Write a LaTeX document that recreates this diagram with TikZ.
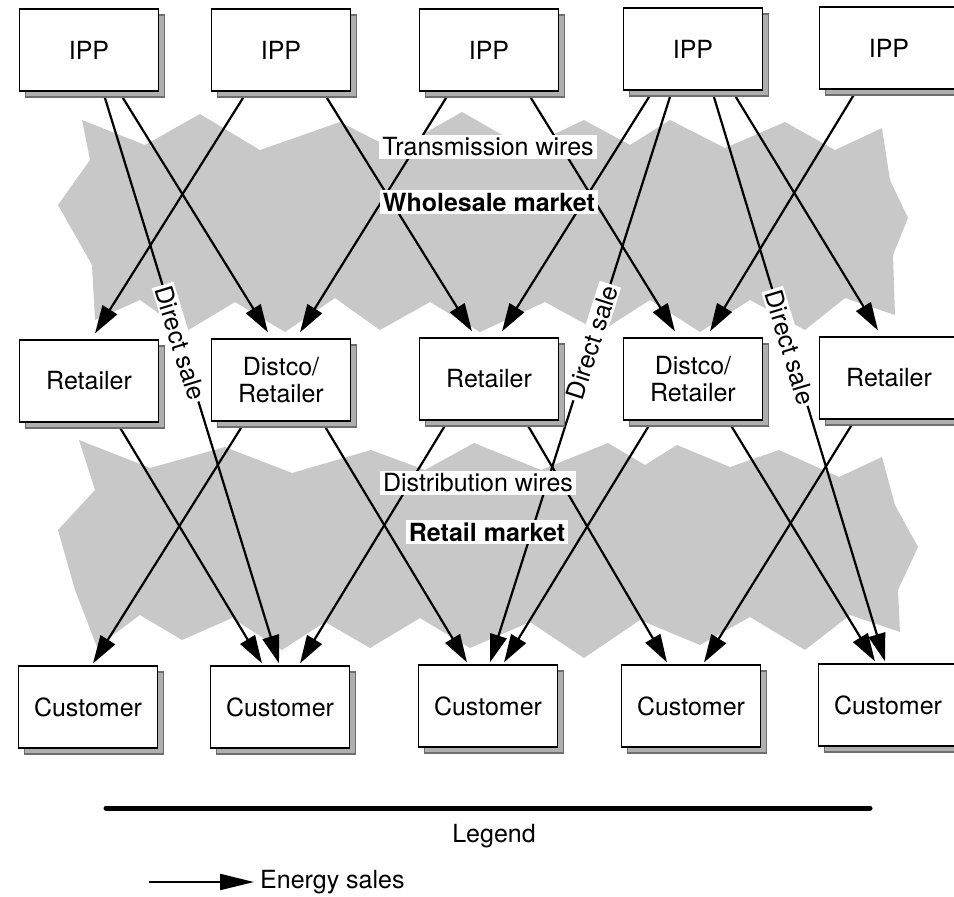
\documentclass[tikz,border=0pt]{standalone}
\usepackage{xcolor}
\usepackage{fontspec}
\setmainfont{TeX Gyre Heros}
\usepackage{tikz}
\usetikzlibrary{positioning, arrows.meta, shadows}
\definecolor{gris}{RGB}{200, 200, 200}
\definecolor{sombra}{RGB}{110, 110, 110}
\pgfdeclarelayer{fondo}
\pgfdeclarelayer{cables}
\pgfsetlayers{fondo,cables,main}
\tikzset{
    unit/.style={draw, rectangle, fill=white, line width=1.2pt, minimum width=139pt, minimum height=82pt, align=center, font=\fontsize{25}{27}\selectfont, copy shadow={shadow xshift=6pt, shadow yshift=-6pt, fill=sombra!55, draw=sombra}},
    cloud/.style={fill=gris, draw=none},
    conn/.style={line width=2.2pt, -{Triangle[length=28pt, width=17pt]}},
    tag/.style={fill=white, inner sep=3pt, font=\fontsize{25}{27}\selectfont},
    sale/.style={tag, sloped, inner sep=2pt},
}

\begin{document}
\begin{tikzpicture}[x=1pt, y=-1pt]
        \useasboundingbox (0,0) rectangle (954,897);

        % producers
        \node[unit] (ipp1) at (89,50) {IPP};
        \node[unit] (ipp2) at (281,50) {IPP};
        \node[unit] (ipp3) at (489,50) {IPP};
        \node[unit] (ipp4) at (693,49) {IPP};
        \node[unit] (ipp5) at (889,48) {IPP};

        % retailers
        \node[unit] (ret1) at (89,381) {Retailer};
        \node[unit] (dis1) at (281,380) {Distco/\\Retailer};
        \node[unit] (ret2) at (489,379) {Retailer};
        \node[unit] (dis2) at (693,379) {Distco/\\Retailer};
        \node[unit] (ret3) at (889,378) {Retailer};

        % customers
        \node[unit] (cus1) at (88,707) {Customer};
        \node[unit] (cus2) at (280,707) {Customer};
        \node[unit] (cus3) at (488,706) {Customer};
        \node[unit] (cus4) at (691,706) {Customer};
        \node[unit] (cus5) at (888,705) {Customer};

        \begin{pgfonlayer}{fondo}
            \fill[cloud] (58,205) -- (90,160) -- (82,120) -- (145,145) -- (200,114) -- (260,150)
                -- (340,122) -- (395,150) -- (462,112) -- (525,148) -- (584,120) -- (630,145)
                -- (670,120) -- (725,148) -- (785,122) -- (835,150) -- (882,128) -- (890,180)
                -- (908,218) -- (893,255) -- (895,315) -- (845,298) -- (805,330) -- (750,300)
                -- (700,332) -- (650,300) -- (600,332) -- (545,302) -- (480,332) -- (430,302)
                -- (380,330) -- (335,298) -- (285,332) -- (235,302) -- (185,332) -- (140,300)
                -- (95,320) -- (92,265) -- cycle;
            \fill[cloud] (58,530) -- (95,490) -- (79,440) -- (150,468) -- (225,447) -- (292,473)
                -- (371,450) -- (425,470) -- (474,443) -- (541,470) -- (608,443) -- (645,465)
                -- (677,445) -- (730,467) -- (779,450) -- (839,477) -- (882,457) -- (895,505)
                -- (918,547) -- (898,590) -- (900,632) -- (850,615) -- (805,650) -- (750,617)
                -- (700,645) -- (640,620) -- (584,658) -- (530,622) -- (470,648) -- (420,618)
                -- (370,648) -- (325,622) -- (282,650) -- (232,618) -- (182,640) -- (140,615)
                -- (97,647) -- (75,590) -- cycle;
        \end{pgfonlayer}

        \begin{pgfonlayer}{cables}
            \draw[conn] ([xshift=30pt]ipp1.south) -- ([xshift=-13pt, yshift=6pt]dis1.north);
            \draw[conn] ([xshift=14pt]ipp1.south) -- node[sale, pos=0.44] {Direct sale} ([xshift=-1pt, yshift=2pt]cus2.north);
            \draw[conn] ([xshift=-34pt]ipp2.south) -- ([xshift=6pt, yshift=6pt]ret1.north);
            \draw[conn] ([xshift=42pt]ipp2.south) -- ([xshift=-17pt, yshift=6pt]ret2.north);
            \draw[conn] ([xshift=-39pt]ipp3.south) -- ([xshift=19pt, yshift=6pt]dis1.north);
            \draw[conn] ([xshift=38pt]ipp3.south) -- ([xshift=-18pt, yshift=6pt]dis2.north);
            \draw[conn] ([xshift=-40pt]ipp4.south) -- ([xshift=13pt, yshift=6pt]ret2.north);
            \draw[conn] ([xshift=-21pt]ipp4.south) -- node[sale, pos=0.44] {Direct sale} ([xshift=2pt, yshift=2pt]cus3.north);
            \draw[conn] ([xshift=19pt]ipp4.south) -- node[sale, pos=0.45] {Direct sale} ([xshift=-3pt, yshift=2pt]cus5.north);
            \draw[conn] ([xshift=39pt]ipp4.south) -- ([xshift=-11pt, yshift=6pt]ret3.north);
            \draw[conn] ([xshift=-32pt]ipp5.south) -- ([xshift=17pt, yshift=6pt]dis2.north);

            \draw[conn] ([xshift=28pt]ret1.south) -- ([xshift=-18pt, yshift=2pt]cus2.north);
            \draw[conn] ([xshift=-36pt]dis1.south) -- ([xshift=5pt, yshift=2pt]cus1.north);
            \draw[conn] ([xshift=41pt]dis1.south) -- ([xshift=-21pt, yshift=2pt]cus3.north);
            \draw[conn] ([xshift=-41pt]ret2.south) -- ([xshift=20pt, yshift=2pt]cus2.north);
            \draw[conn] ([xshift=36pt]ret2.south) -- ([xshift=-24pt, yshift=2pt]cus4.north);
            \draw[conn] ([xshift=-41pt]dis2.south) -- ([xshift=16pt, yshift=2pt]cus3.north);
            \draw[conn] ([xshift=35pt]dis2.south) -- ([xshift=-13pt, yshift=2pt]cus5.north);
            \draw[conn] ([xshift=-34pt]ret3.south) -- ([xshift=13pt, yshift=2pt]cus4.north);
        \end{pgfonlayer}

        \node[tag] (trans) at (488,147) {Transmission wires};
        \node[tag, font=\fontsize{25}{27}\selectfont\bfseries] (whole) at (489,202) {Wholesale market};
        \node[tag] (distr) at (478,483) {Distribution wires};
        \node[tag, font=\fontsize{25}{27}\selectfont\bfseries] (retail) at (487,532) {Retail market};

        % legend
        \coordinate (legL) at (106,808);
        \coordinate (legR) at (870,808);
        \draw[line width=5pt, line cap=round] (legL) -- (legR);
        \node[font=\fontsize{25}{27}\selectfont] (legend) at (494,836) {Legend};
        \node[font=\fontsize{25}{27}\selectfont, anchor=west, inner sep=2pt] (sales) at (258,882) {Energy sales};
        \coordinate (tail) at (149,882);
        \draw[conn, -{Triangle[length=34pt, width=16pt]}] (tail) -- ([xshift=-4pt]sales.west);
\end{tikzpicture}
\end{document}
